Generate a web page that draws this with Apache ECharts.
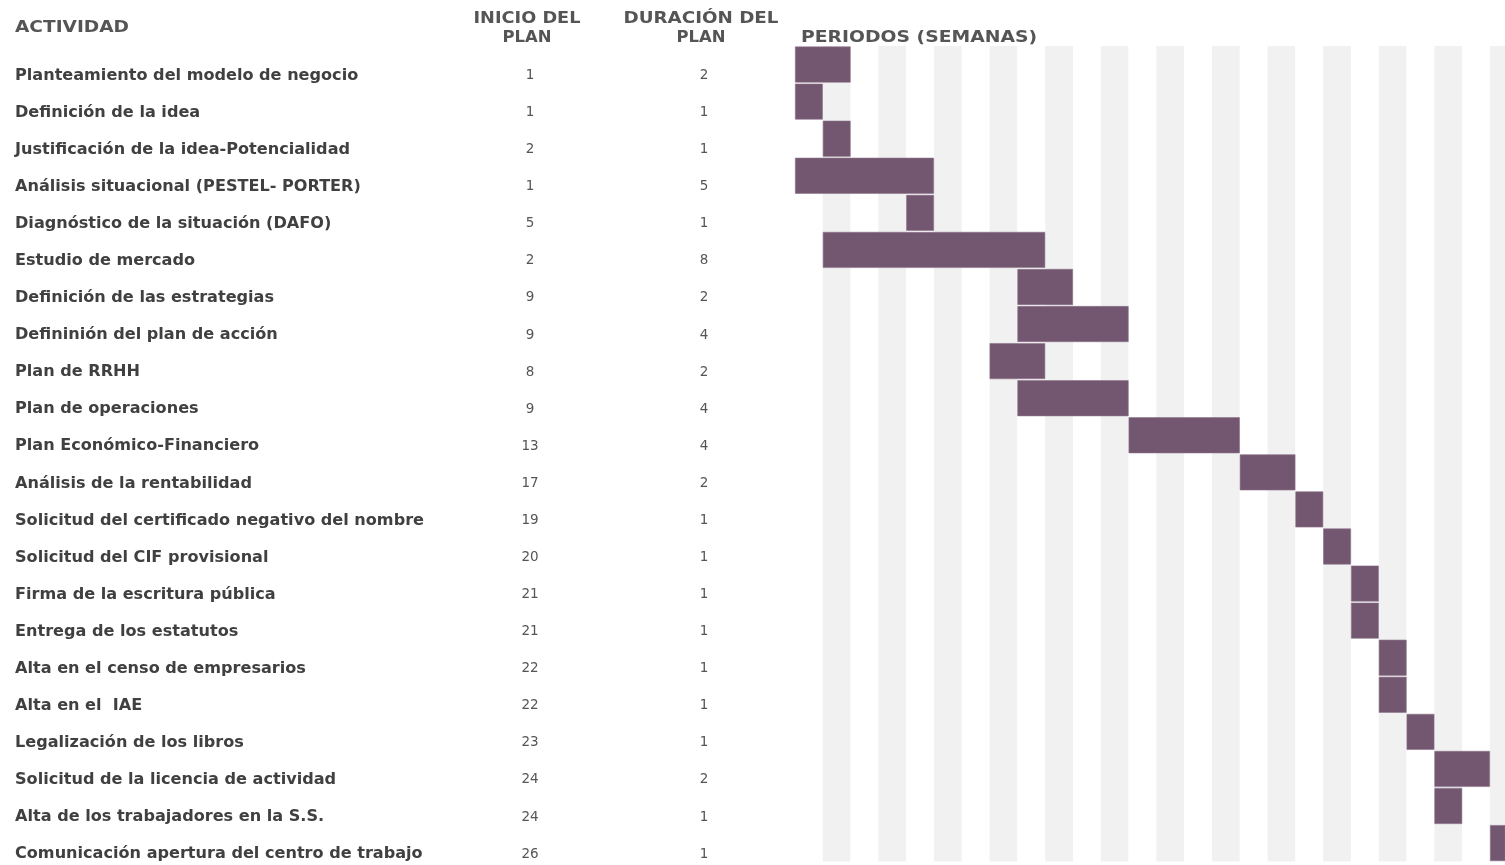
<!DOCTYPE html>
<html><head><meta charset="utf-8">
<script src="https://cdn.jsdelivr.net/npm/echarts@6/dist/echarts.min.js"></script>
<style>html,body{margin:0;padding:0;background:#fff}#c{width:1505px;height:865px}</style>
</head><body><div id="c"></div>
<script>
const activities = [
  "Planteamiento del modelo de negocio",
  "Definición de la idea",
  "Justificación de la idea-Potencialidad",
  "Análisis situacional (PESTEL- PORTER)",
  "Diagnóstico de la situación (DAFO)",
  "Estudio de mercado",
  "Definición de las estrategias",
  "Defininión del plan de acción",
  "Plan de RRHH",
  "Plan de operaciones",
  "Plan Económico-Financiero",
  "Análisis de la rentabilidad",
  "Solicitud del certificado negativo del nombre",
  "Solicitud del CIF provisional",
  "Firma de la escritura pública",
  "Entrega de los estatutos",
  "Alta en el censo de empresarios",
  "Alta en el  IAE",
  "Legalización de los libros",
  "Solicitud de la licencia de actividad",
  "Alta de los trabajadores en la S.S.",
  "Comunicación apertura del centro de trabajo"
];
const starts    = [1,1,2,1,5,2,9,9,8,9,13,17,19,20,21,21,22,22,23,24,24,26];
const durations = [2,1,1,5,1,8,2,4,2,4,4,2,1,1,1,1,1,1,1,2,1,1];
const visibleWeeks = 25.54;

const offsets = starts.map(s => s - 1);

const chart = echarts.init(document.getElementById('c'));
const GL = 795, GT = 46;
const labelFont = '"DejaVu Sans", sans-serif';
const headFont = '"DejaVu Sans", sans-serif';
const txtColor = '#404040';
const headColor = '#555555';

// measure helper for stretching header text to the reference width
const mctx = document.createElement('canvas').getContext('2d');
function sx(text, font, target) {
  mctx.font = font;
  return target / mctx.measureText(text).width;
}
const HF = 'bold 15.5px ' + headFont;

const yBase = {
  type: 'category', inverse: true, data: activities,
  axisLine: {show: false}, axisTick: {show: false}
};

function headText(text, cx, cy, w, align) {
  const s = sx(text, HF, w);
  return {
    type: 'text', x: cx, y: cy, scaleX: s,
    style: {text: text, fill: headColor, font: HF, align: align, verticalAlign: 'middle'}
  };
}

chart.setOption({
  animation: false,
  backgroundColor: '#ffffff',
  grid: {left: GL, top: GT, right: 0, bottom: 0, containLabel: false},
  xAxis: {
    type: 'value', min: 0, max: visibleWeeks, interval: 1,
    axisLine: {show: false}, axisTick: {show: false}, axisLabel: {show: false},
    splitLine: {show: false},
    splitArea: {show: true, areaStyle: {color: ['#ffffff', '#f1f1f1']}}
  },
  yAxis: [
    Object.assign({}, yBase, {
      splitLine: {show: true, lineStyle: {color: '#ffffff', width: 2}},
      axisLabel: {
        align: 'left', margin: GL - 15, color: txtColor,
        fontFamily: labelFont, fontWeight: 'bold', fontSize: 16.1,
        verticalAlign: 'top', lineHeight: 22
      }
    }),
    Object.assign({}, yBase, {
      position: 'left', offset: 0,
      axisLabel: {
        align: 'center', margin: GL - 530, color: '#555',
        fontFamily: labelFont, fontSize: 13.5,
        verticalAlign: 'top', lineHeight: 22,
        formatter: (v, i) => String(starts[i])
      }
    }),
    Object.assign({}, yBase, {
      position: 'left', offset: 0,
      axisLabel: {
        align: 'center', margin: GL - 704, color: '#555',
        fontFamily: labelFont, fontSize: 13.5,
        verticalAlign: 'top', lineHeight: 22,
        formatter: (v, i) => String(durations[i])
      }
    })
  ],
  series: [
    {
      type: 'bar', stack: 'g', data: offsets, yAxisIndex: 0,
      itemStyle: {color: 'transparent'}, silent: true,
      barCategoryGap: '3%'
    },
    {
      type: 'bar', stack: 'g', data: durations, yAxisIndex: 0,
      itemStyle: {color: '#735670', borderColor: '#8d7389', borderWidth: 0.6},
      barCategoryGap: '3%'
    }
  ],
  graphic: [
    headText('ACTIVIDAD', 15, 28, 114, 'left'),
    headText('INICIO DEL', 527, 19, 107, 'center'),
    headText('PLAN', 527, 38, 49, 'center'),
    headText('DURACIÓN DEL', 701, 19, 155, 'center'),
    headText('PLAN', 701, 38, 49, 'center'),
    headText('PERIODOS (SEMANAS)', 801, 38, 236, 'left')
  ]
});
</script></body></html>
